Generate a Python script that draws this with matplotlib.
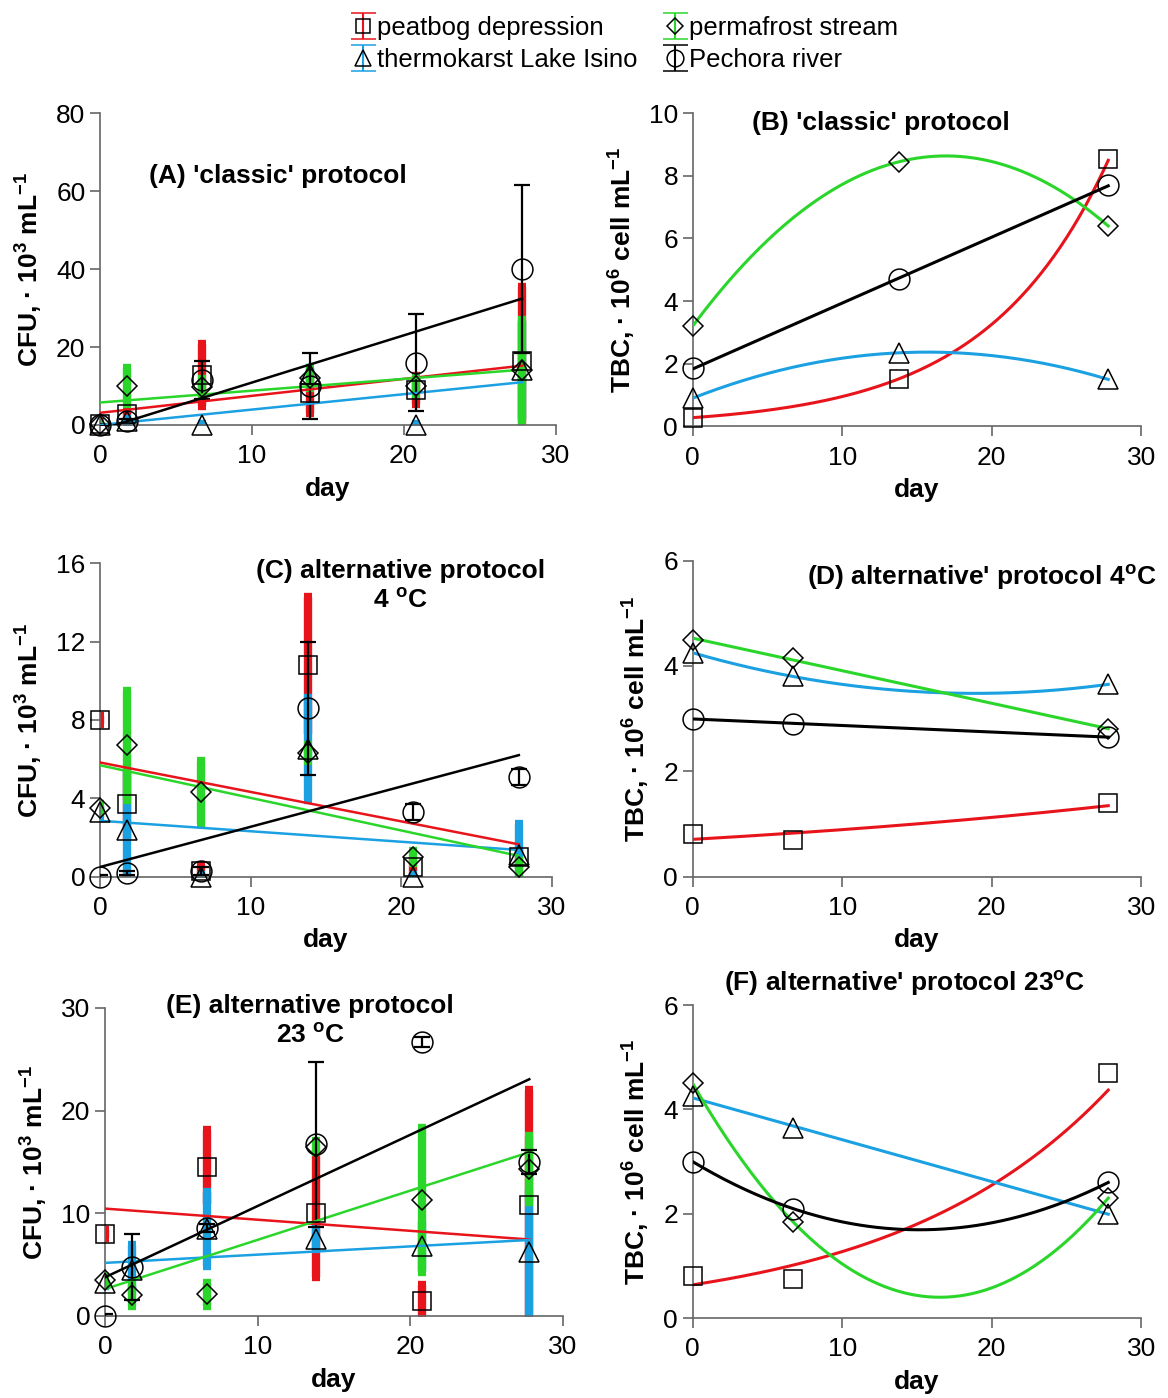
import numpy as np
import matplotlib.pyplot as plt

plt.rcParams.update({'font.family': 'Liberation Sans', 'font.size': 19,
                     'mathtext.fontset': 'custom', 'mathtext.rm': 'Liberation Sans',
                     'mathtext.bf': 'Liberation Sans:bold', 'mathtext.default': 'bf'})

####################################################################################
# Data

names = ["peatbog depression", "thermokarst Lake Isino", "permafrost stream", "Pechora river"]
markers = ['s', '^', 'D', 'o']
msizes = [13, 14, 10, 15]
colors = ['#e8141b', '#1ba1e2', '#2bd62b', '#000000']

days_cfu = [0, 1.8, 6.7, 13.8, 20.8, 27.8]
days_B = [0, 13.8, 27.8]
days_DF = [0, 6.7, 27.8]

# (A) classic protocol, CFU
peat_A = [0.3, 2.8, 12.8, 8.2, 9.0, 16.5]
peat_A_err = [0.5, 1.2, 8.0, 5.0, 3.6, 19.0]
thermo_A = [0.0, 1.0, 0.0, 13.0, 0.0, 14.0]
thermo_A_err = [0.3, 0.5, 0.3, 1.5, 0.3, 12.5]
perma_A = [0.3, 10.0, 9.8, 12.0, 10.0, 14.0]
perma_A_err = [0.3, 4.5, 2.0, 2.5, 2.0, 13.0]
pech_A = [0.0, 1.0, 11.5, 10.0, 16.0, 40.0]
pech_A_err = [0.3, 0.5, 4.8, 8.5, 12.5, 21.5]

# (C) alternative protocol 4 oC, CFU
peat_C = [8.0, 3.7, 0.3, 10.8, 0.5, 1.0]
peat_C_err = [0.2, 1.8, 0.3, 3.5, 0.5, 0.5]
thermo_C = [3.3, 2.4, 0.0, 6.5, 0.0, 1.1]
thermo_C_err = [0.3, 3.2, 0.1, 2.6, 0.1, 1.6]
perma_C = [3.5, 6.7, 4.3, 6.3, 1.0, 0.5]
perma_C_err = [0.2, 2.8, 1.6, 0.4, 0.3, 0.3]
pech_C = [0.0, 0.2, 0.3, 8.6, 3.3, 5.1]
pech_C_err = [0.1, 0.1, 0.2, 3.4, 0.4, 0.4]

# (E) alternative protocol 23 oC, CFU
peat_E = [8.0, np.nan, 14.5, 10.0, 1.5, 10.8]
peat_E_err = [0.4, 0.0, 3.6, 6.2, 1.5, 11.2]
thermo_E = [3.2, 4.5, 8.5, 7.5, 6.8, 6.2]
thermo_E_err = [0.3, 2.4, 3.6, 1.0, 2.4, 6.2]
perma_E = [3.5, 2.0, 2.1, 16.5, 11.3, 14.3]
perma_E_err = [0.3, 1.0, 1.1, 0.5, 7.0, 3.2]
pech_E = [0.0, 4.8, 8.6, 16.7, 26.7, 15.0]
pech_E_err = [0.2, 3.2, 0.4, 8.0, 0.5, 1.2]

# (B), (D), (F) TBC
peat_B = [0.28, 1.5, 8.55]
thermo_B = [0.9, 2.35, 1.5]
perma_B = [3.2, 8.45, 6.4]
pech_B = [1.85, 4.7, 7.7]

peat_D = [0.8, 0.7, 1.4]
thermo_D = [4.25, 3.8, 3.65]
perma_D = [4.5, 4.15, 2.8]
pech_D = [3.0, 2.9, 2.65]

peat_F = [0.8, 0.75, 4.7]
thermo_F = [4.25, 3.65, 2.0]
perma_F = [4.5, 1.85, 2.3]
pech_F = [3.0, 2.1, 2.6]

# trendline type per series (peat, thermo, perma, pech)
fit_B = ['exp', 'poly2', 'poly2', 'lin']
fit_D = ['exp', 'poly2', 'lin', 'lin']
fit_F = ['exp', 'lin', 'poly2', 'poly2']

####################################################################################

def trend(x, y, kind):
    x = np.asarray(x, float)
    y = np.asarray(y, float)
    ok = ~np.isnan(y)
    xs = np.linspace(x[ok].min(), x[ok].max(), 200)
    if kind == 'exp':
        p = np.polyfit(x[ok], np.log(y[ok]), 1)
        return xs, np.exp(np.polyval(p, xs))
    deg = 2 if kind == 'poly2' else 1
    p = np.polyfit(x[ok], y[ok], deg)
    return xs, np.polyval(p, xs)


def style_axis(ax, ymax, ystep, ylabel):
    ax.set_xlim(0, 30)
    ax.set_ylim(0, ymax)
    ax.set_xticks([0, 10, 20, 30])
    ax.set_yticks(np.arange(0, ymax + 0.01, ystep))
    for s in ['top', 'right']:
        ax.spines[s].set_visible(False)
    for s in ['left', 'bottom']:
        ax.spines[s].set_color('#666666')
        ax.spines[s].set_linewidth(1.2)
    ax.tick_params(direction='out', length=7, width=1.2, color='#666666', labelsize=19)
    ax.tick_params(axis='x', pad=7)
    ax.set_xlabel('day', fontweight='bold', labelpad=6)
    ax.set_ylabel(ylabel, fontweight='bold', labelpad=8)


def cfu_panel(ax, series, errs):
    for k in range(4):
        if k == 3:
            ax.errorbar(days_cfu, series[k], yerr=errs[k], fmt='none', ecolor='k',
                        elinewidth=1.6, capsize=6, capthick=1.6, zorder=3)
        else:
            ax.errorbar(days_cfu, series[k], yerr=errs[k], fmt='none', ecolor=colors[k],
                        elinewidth=6, capsize=3, capthick=6, zorder=2)
    for k in range(4):
        xs, ys = trend(days_cfu, series[k], 'lin')
        ax.plot(xs, ys, color=colors[k], lw=1.8, zorder=4)
    for k in range(4):
        ax.plot(days_cfu, series[k], linestyle='none', marker=markers[k], ms=msizes[k],
                mfc='none', mec='k', mew=1.1, clip_on=False, zorder=5)


def tbc_panel(ax, days, series, fits):
    for k in range(4):
        xs, ys = trend(days, series[k], fits[k])
        ax.plot(xs, ys, color=colors[k], lw=2.2, zorder=4)
    for k in range(4):
        ax.plot(days, series[k], linestyle='none', marker=markers[k], ms=msizes[k],
                mfc='none', mec='k', mew=1.1, clip_on=False, zorder=5)


fig = plt.figure(figsize=(11.68, 13.98), dpi=100)

axA = fig.add_axes([0.0856, 0.696, 0.390, 0.223])
axB = fig.add_axes([0.593, 0.695, 0.384, 0.224])
axC = fig.add_axes([0.0856, 0.373, 0.387, 0.224])
axD = fig.add_axes([0.593, 0.373, 0.384, 0.226])
axE = fig.add_axes([0.0899, 0.0587, 0.392, 0.2203])
axF = fig.add_axes([0.593, 0.0572, 0.384, 0.2238])

cfu_label = 'CFU, · 10$^3$ mL$^{-1}$'
tbc_label = 'TBC, · 10$^6$ cell mL$^{-1}$'

cfu_panel(axA, [peat_A, thermo_A, perma_A, pech_A],
          [peat_A_err, thermo_A_err, perma_A_err, pech_A_err])
style_axis(axA, 80, 20, cfu_label)
axA.text(0.39, 0.80, "(A) 'classic' protocol", transform=axA.transAxes,
         ha='center', va='center', fontweight='bold')

cfu_panel(axC, [peat_C, thermo_C, perma_C, pech_C],
          [peat_C_err, thermo_C_err, perma_C_err, pech_C_err])
style_axis(axC, 16, 4, cfu_label)
axC.text(0.665, 1.015, "(C) alternative protocol\n4 $^o$C", transform=axC.transAxes,
         ha='center', va='top', fontweight='bold', linespacing=1.3)

cfu_panel(axE, [peat_E, thermo_E, perma_E, pech_E],
          [peat_E_err, thermo_E_err, perma_E_err, pech_E_err])
style_axis(axE, 30, 10, cfu_label)
axE.text(0.448, 1.045, "(E) alternative protocol\n23 $^o$C", transform=axE.transAxes,
         ha='center', va='top', fontweight='bold', linespacing=1.3)

tbc_panel(axB, days_B, [peat_B, thermo_B, perma_B, pech_B], fit_B)
style_axis(axB, 10, 2, tbc_label)
axB.text(0.42, 0.97, "(B) 'classic' protocol", transform=axB.transAxes,
         ha='center', va='center', fontweight='bold')

tbc_panel(axD, days_DF, [peat_D, thermo_D, perma_D, pech_D], fit_D)
style_axis(axD, 6, 2, tbc_label)
axD.text(0.645, 0.946, "(D) alternative' protocol 4$^o$C", transform=axD.transAxes,
         ha='center', va='center', fontweight='bold')

tbc_panel(axF, days_DF, [peat_F, thermo_F, perma_F, pech_F], fit_F)
style_axis(axF, 6, 2, tbc_label)
axF.text(0.472, 1.07, "(F) alternative' protocol 23$^o$C", transform=axF.transAxes,
         ha='center', va='center', fontweight='bold')

# legend handles
handles = []
for k in range(4):
    h = axA.errorbar([np.nan], [np.nan], yerr=[1], fmt=markers[k], ms=msizes[k] * 0.8,
                     mfc='none', mec='k', mew=1.1, ecolor=colors[k], elinewidth=1.5,
                     capsize=9, capthick=1.5)
    handles.append(h)

fig.legend(handles, names, ncol=2, loc='upper center', bbox_to_anchor=(0.535, 1.005),
           frameon=False, fontsize=18.5, handlelength=0.9, handletextpad=0.1,
           columnspacing=1.0, labelspacing=0.3)

fig.savefig('out.png', dpi=100)
